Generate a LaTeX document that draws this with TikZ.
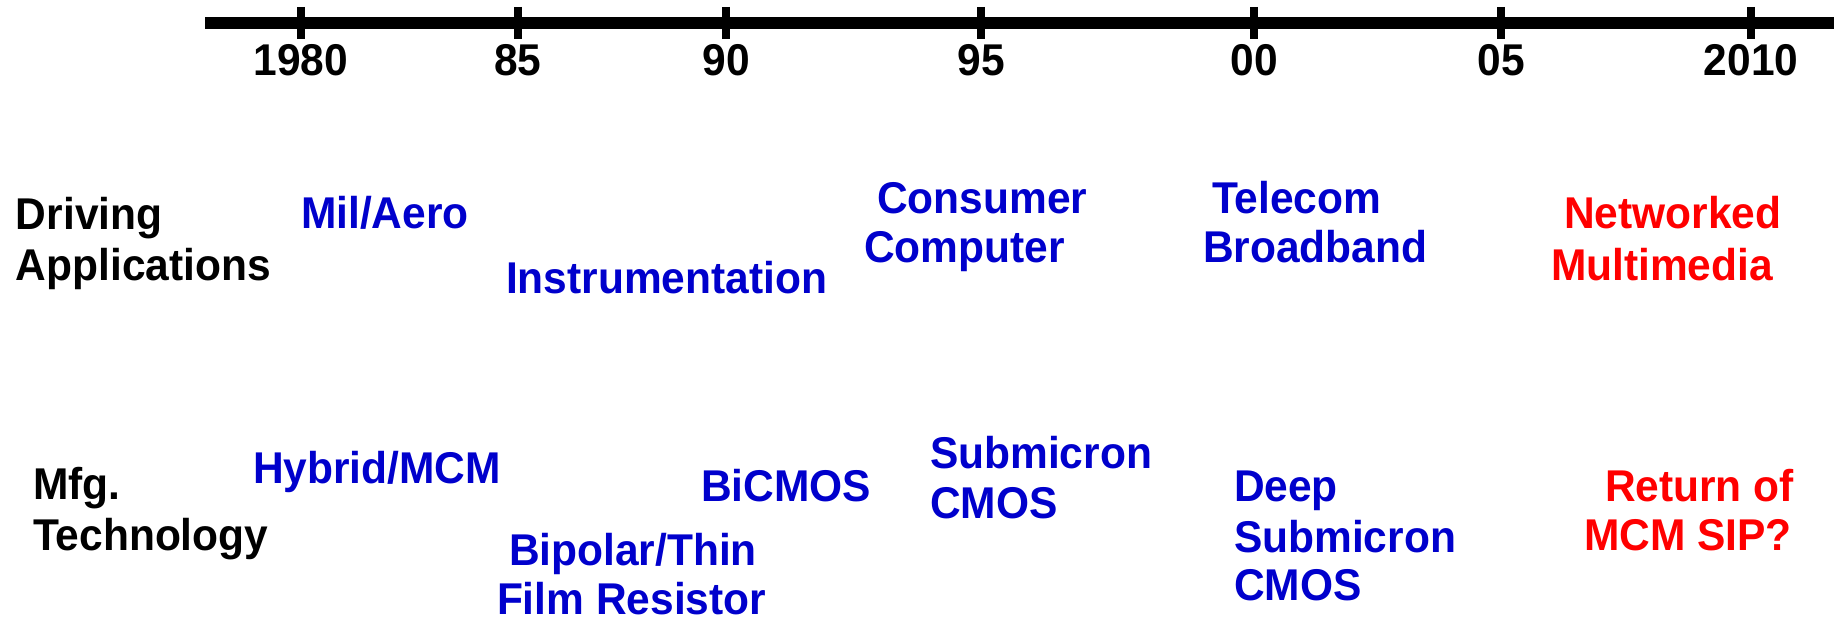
\documentclass[tikz,border=0pt]{standalone}
\usepackage{fontspec}
\setmainfont{Liberation Sans}[FakeStretch=0.955]
\definecolor{tblue}{RGB}{0,0,204}
\definecolor{tred}{RGB}{255,0,0}
\begin{document}
\begin{tikzpicture}[x=1pt,y=-1pt,
  lbl/.style={inner sep=0pt,outer sep=0pt,anchor=base west,font=\fontsize{44.5}{50}\selectfont\bfseries},
  yr/.style={inner sep=0pt,outer sep=0pt,anchor=base,font=\fontsize{44.5}{50}\selectfont\bfseries},
  app/.style={lbl,text=tblue},
  new/.style={lbl,text=tred},
  axisline/.style={line width=11.5pt},
  tick/.style={line width=8.5pt}]
\useasboundingbox (0,0) rectangle (1834,620);
% axis
\coordinate (axL) at (205,23);
\coordinate (axR) at (1834,23);
\draw[axisline] (axL) -- (axR);
\foreach \x/\t/\n in {301/1980/a,518/85/b,726/90/c,981/95/d,1254/00/e,1501/05/f,1751/2010/g}{
  \draw[tick] (\x,7) -- (\x,39);
  \node[yr] (y\n) at (\x,76) {\t};
}
% row headings
\node[lbl] (drv1) at (16,230) {Driving};
\node[lbl] (drv2) at (16,281) {Applications};
\node[lbl] (mfg1) at (33,499) {Mfg.};
\node[lbl] (mfg2) at (33,550) {Technology};
% driving applications
\node[app] (mil) at (301,229) {Mil/Aero};
\node[app] (ins) at (506,294) {Instrumentation};
\node[app] (con1) at (877,214) {Consumer};
\node[app] (con2) at (864,263) {Computer};
\node[app] (tel1) at (1212,214) {Telecom};
\node[app] (tel2) at (1203,263) {Broadband};
\node[new] (net1) at (1564,229) {Networked};
\node[new] (net2) at (1551,281) {Multimedia};
% technology
\node[app] (hyb) at (253,483) {Hybrid/MCM};
\node[app] (bic) at (701,501) {BiCMOS};
\node[app] (bip1) at (509,565) {Bipolar/Thin};
\node[app] (bip2) at (497,614) {Film Resistor};
\node[app] (sub1) at (930,468) {Submicron};
\node[app] (sub2) at (930,518) {CMOS};
\node[app] (dsm1) at (1234,501) {Deep};
\node[app] (dsm2) at (1234,552) {Submicron};
\node[app] (dsm3) at (1234,600) {CMOS};
\node[new] (ret1) at (1605,501) {Return of};
\node[new] (ret2) at (1584,550) {MCM SIP?};
\end{tikzpicture}
\end{document}
